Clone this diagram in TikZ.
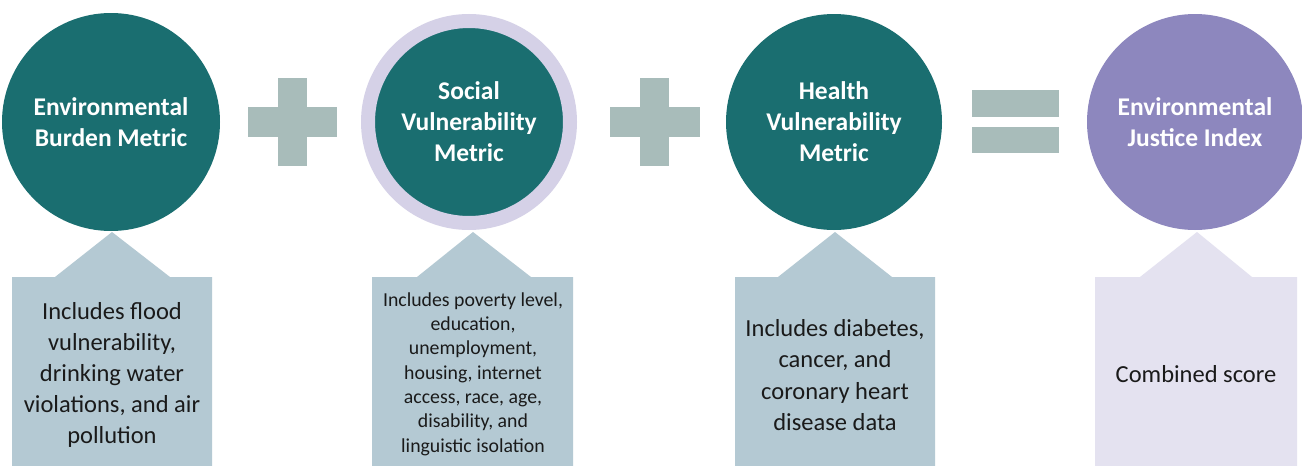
\documentclass[tikz,border=0pt]{standalone}
\usepackage{fontspec}
\setmainfont{Carlito}
\definecolor{teal}{HTML}{1A6E70}
\definecolor{opgray}{HTML}{A8BCBA}
\definecolor{boxblue}{HTML}{B4C9D3}
\definecolor{purp}{HTML}{8D87BE}
\definecolor{lavbox}{HTML}{E4E2F0}
\definecolor{ringc}{HTML}{D5D1E7}
\definecolor{ink}{HTML}{1A1A1A}
\tikzset{
  metric/.style={circle, fill=teal, minimum size=218pt, inner sep=0pt, text=white,
    font=\fontsize{25.5}{31}\selectfont\bfseries, align=center},
  infobox/.style={fill=boxblue},
  infotext/.style={text=ink, align=center, font=\fontsize{24.5}{31.2}\selectfont},
  smalltext/.style={text=ink, align=center, font=\fontsize{19.8}{24.3}\selectfont},
  opbar/.style={fill=opgray}
}
\begin{document}
\begin{tikzpicture}[x=1pt,y=-1pt]
\useasboundingbox (0,0) rectangle (1302,466);
\fill[white] (0,0) rectangle (1302,466);
% info boxes with pointers (behind circles)
\fill[infobox] (12,466) -- (12,277) -- (55,277) -- (112,232) -- (170,277) -- (212,277) -- (212,466) -- cycle;
\fill[infobox] (372,466) -- (372,277) -- (417,277) -- (473,232) -- (531,277) -- (573,277) -- (573,466) -- cycle;
\fill[infobox] (735,466) -- (735,277) -- (778,277) -- (835,232) -- (892,277) -- (935,277) -- (935,466) -- cycle;
\fill[lavbox] (1095,466) -- (1095,277) -- (1140,277) -- (1197,232) -- (1252,277) -- (1297,277) -- (1297,466) -- cycle;
% circles
\node[metric] (env) at (111,122) {Environmental\\Burden Metric};
\node[metric, minimum size=202pt, draw=ringc, line width=14pt] (soc) at (469,122) {Social\\Vulnerability\\Metric};
\node[metric, minimum size=216pt] (hea) at (834,122) {Health\\Vulnerability\\Metric};
\node[metric, minimum size=216pt, fill=purp] (eji) at (1195,122) {Environmental\\Justice Index};
% operators
\fill[opbar] (248,107) rectangle (337,137);
\fill[opbar] (278,78) rectangle (307,166);
\fill[opbar] (610,107) rectangle (700,137);
\fill[opbar] (640,78) rectangle (669,166);
\fill[opbar] (972,90) rectangle (1059,117);
\fill[opbar] (972,127) rectangle (1059,153);
% box texts
\node[infotext] (t1) at (112,375) {Includes flood\\vulnerability,\\drinking water\\violations, and air\\pollution};
\node[smalltext] (t2) at (473,374) {Includes poverty level,\\education,\\unemployment,\\housing, internet\\access, race, age,\\disability, and\\linguistic isolation};
\node[infotext] (t3) at (835,375) {Includes diabetes,\\cancer, and\\coronary heart\\disease data};
\node[infotext] (t4) at (1196,374) {Combined score};
\end{tikzpicture}
\end{document}
